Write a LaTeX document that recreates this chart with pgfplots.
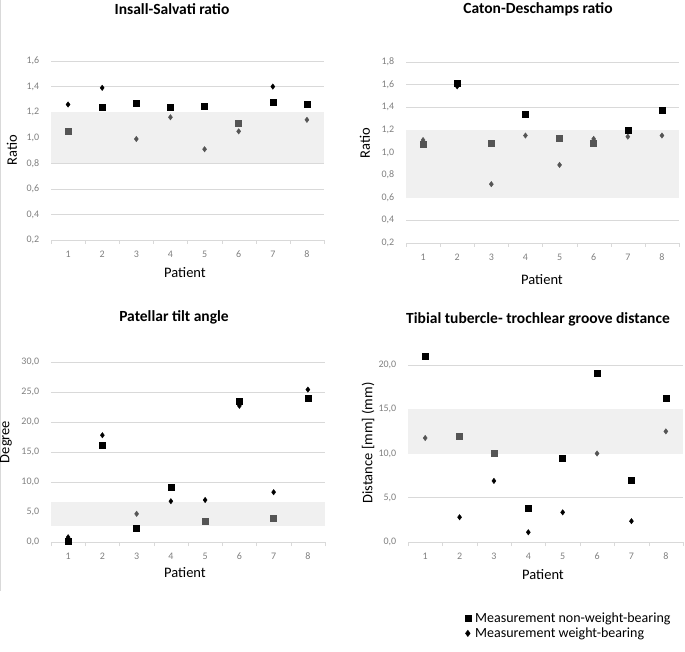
\documentclass[border=0pt]{standalone}
\usepackage{pgfplots}
\pgfplotsset{compat=1.18}
\usepackage{fontspec}
\setmainfont{Carlito}
\definecolor{mk}{HTML}{555555}
\definecolor{band}{HTML}{F0F0F0}
\definecolor{grd}{HTML}{D9D9D9}
\definecolor{tl}{HTML}{7F7F7F}
\pgfplotsset{
  panel/.style={
    scale only axis,
    anchor=south west,
    xmin=0.5, xmax=8.5,
    clip=false,
    axis x line=bottom, axis y line=left,
    axis line style={-},
    y axis line style={draw=none},
    x axis line style={draw=grd},
    xtick={1,...,8},
    minor xtick={0.5,1.5,...,8.5},
    major tick style={draw=none},
    minor tick style={draw=grd},
    minor tick length=4pt,
    tick align=outside,
    ymajorgrids, grid style={draw=grd, line width=0.6pt},
    ticklabel style={font=\fontsize{10}{12}\selectfont, text=tl},
    /pgf/number format/assume math mode=true,
    yticklabel style={/pgf/number format/fixed, /pgf/number format/fixed zerofill, /pgf/number format/precision=1, /pgf/number format/use comma},
    xticklabel style={yshift=-3pt},
    yticklabel style={xshift=-4pt},
  },
  sqb/.style={only marks, mark=square*, mark size=3pt, black, forget plot},
  sqg/.style={only marks, mark=square*, mark size=3pt, mk, forget plot},
  dib/.style={only marks, mark=diamond*, mark size=2.7pt, black, forget plot},
  dig/.style={only marks, mark=diamond*, mark size=2.7pt, mk, forget plot},
}
\begin{document}
\begin{tikzpicture}
\useasboundingbox (0pt,0pt) rectangle (685pt,651pt);
\draw[grd, line width=0.8pt] (0.6pt,651pt) -- (0.6pt,60pt);

% ---------- Insall-Salvati ----------
\begin{axis}[panel, at={(51pt,411pt)}, width=273pt, height=179pt,
  ymin=0.2, ymax=1.6, ytick={0.2,0.4,...,1.61}]
\fill[band] (axis cs:0.5,0.8) rectangle (axis cs:8.5,1.2);
\addplot[sqb] coordinates {(2,1.24) (3,1.27) (4,1.24) (5,1.245) (7,1.28) (8,1.26)};
\addplot[sqg] coordinates {(1,1.05) (6,1.11)};
\addplot[dib] coordinates {(1,1.26) (2,1.39) (7,1.40)};
\addplot[dig] coordinates {(3,0.99) (4,1.16) (5,0.91) (6,1.05) (8,1.14)};
\end{axis}

% ---------- Caton-Deschamps ----------
\begin{axis}[panel, at={(406pt,408pt)}, width=273pt, height=181pt,
  ymin=0.2, ymax=1.8, ytick={0.2,0.4,...,1.81}]
\fill[band] (axis cs:0.5,0.6) rectangle (axis cs:8.5,1.2);
\addplot[sqg] coordinates {(1,1.07) (3,1.08) (5,1.13) (6,1.08)};
\addplot[dig] coordinates {(1,1.11) (3,0.72) (4,1.15) (5,0.89) (6,1.12) (7,1.14) (8,1.15)};
\addplot[sqb] coordinates {(2,1.61) (4,1.34) (7,1.20) (8,1.37)};
\addplot[dib] coordinates {(2,1.585)};
\end{axis}

% ---------- Patellar tilt ----------
\begin{axis}[panel, at={(51pt,109pt)}, width=274pt, height=180pt,
  ymin=0, ymax=30, ytick={0,5,...,30}]
\fill[band] (axis cs:0.5,2.7) rectangle (axis cs:8.5,6.6);
\addplot[sqb] coordinates {(1,0.2) (2,16.2) (3,2.3) (4,9.2) (6,23.5) (8,23.9)};
\addplot[sqg] coordinates {(5,3.4) (7,4.0)};
\addplot[dib] coordinates {(1,0.8) (2,17.8) (4,6.8) (5,7.0) (6,22.7) (7,8.3) (8,25.4)};
\addplot[dig] coordinates {(3,4.7)};
\end{axis}

% ---------- TT-TG ----------
\begin{axis}[panel, at={(408pt,109pt)}, width=275pt, height=177pt,
  ymin=0, ymax=20, ytick={0,5,...,20},
  legend style={at={(axis description cs:0.195,-0.385)}, anchor=north west,
    draw=none, fill=none, font=\fontsize{14}{14}\selectfont, row sep=3pt,
    column sep=4pt, nodes={inner sep=0.4pt}},
  legend cell align=left]
\fill[band] (axis cs:0.5,10) rectangle (axis cs:8.5,15);
\addplot[sqb] coordinates {(1,21.0) (4,3.8) (5,9.45) (6,19.1) (7,7.0) (8,16.2)};
\addplot[sqg] coordinates {(2,11.9) (3,10.0)};
\addplot[dib] coordinates {(2,2.8) (3,6.9) (4,1.1) (5,3.35) (7,2.35)};
\addplot[dig] coordinates {(1,11.75) (6,10.0) (8,12.5)};
\addlegendimage{only marks, mark=square*, mark size=3pt, black}
\addlegendentry{Measurement non-weight-bearing}
\addlegendimage{only marks, mark=diamond*, mark size=3.2pt, black}
\addlegendentry{Measurement weight-bearing}
\end{axis}

% titles
\node[font=\bfseries\fontsize{15.5}{16}\selectfont] at (172pt,642pt) {Insall-Salvati ratio};
\node[font=\bfseries\fontsize{15.5}{16}\selectfont] at (538pt,642pt) {Caton-Deschamps ratio};
\node[font=\bfseries\fontsize{15.5}{16}\selectfont] at (174pt,334pt) {Patellar tilt angle};
\node[font=\bfseries\fontsize{15.5}{16}\selectfont] at (538pt,332pt) {Tibial tubercle- trochlear groove distance};
% x labels
\foreach \xx/\yy in {185/378, 542/371, 185/78, 543/76}
  \node[font=\fontsize{14.5}{15}\selectfont] at (\xx pt,\yy pt) {Patient};
% y labels
\node[rotate=90, font=\fontsize{14.5}{15}\selectfont] at (12pt,501pt) {Ratio};
\node[rotate=90, font=\fontsize{14.5}{15}\selectfont] at (365pt,508pt) {Ratio};
\node[rotate=90, font=\fontsize{14.5}{15}\selectfont] at (6pt,209pt) {Degree};
\node[rotate=90, font=\fontsize{14.5}{15}\selectfont] at (368pt,208pt) {Distance [mm] (mm)};
\end{tikzpicture}
\end{document}
